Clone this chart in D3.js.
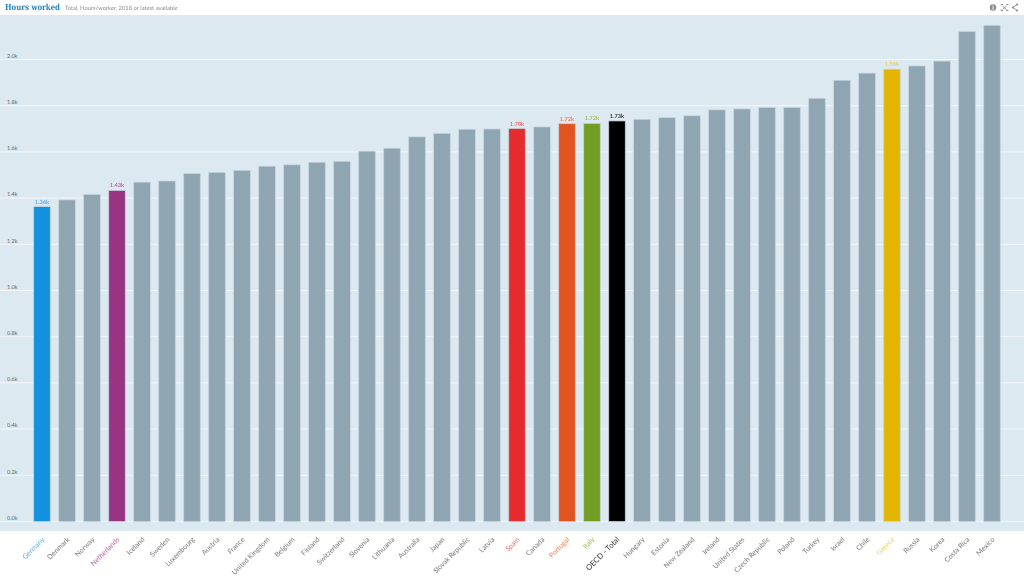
<!DOCTYPE html>
<html><head><meta charset="utf-8">
<script src="https://cdn.jsdelivr.net/npm/d3@7/dist/d3.min.js"></script>
<style>html,body{margin:0;padding:0;background:#fff;overflow:hidden}svg{display:block}text{font-family:Lato,"Noto Sans",sans-serif;text-rendering:geometricPrecision}.soft{opacity:.995}</style>
</head><body><svg id="c" width="1024" height="576"></svg>
<script>
const categories=["Germany","Denmark","Norway","Netherlands","Iceland","Sweden","Luxembourg","Austria","France","United Kingdom","Belgium","Finland","Switzerland","Slovenia","Lithuania","Australia","Japan","Slovak Republic","Latvia","Spain","Canada","Portugal","Italy","OECD - Total","Hungary","Estonia","New Zealand","Ireland","United States","Czech Republic","Poland","Turkey","Israel","Chile","Greece","Russia","Korea","Costa Rica","Mexico"];
const hours=[1363,1392,1416,1433,1469,1474,1506,1511,1520,1538,1544,1555,1559,1603,1616,1665,1680,1698,1699,1701,1708,1722,1723,1734,1741,1748,1756,1782,1786,1792,1792,1832,1910,1941,1958,1972,1993,2121,2148];
const valueLabels={"Germany":"1.36k","Netherlands":"1.43k","Spain":"1.70k","Portugal":"1.72k","Italy":"1.72k","OECD - Total":"1.73k","Greece":"1.96k"};
const highlight={"Germany":"#1390df","Netherlands":"#993483","Spain":"#e62b2f","Portugal":"#e2541f","Italy":"#729f23","OECD - Total":"#000000","Greece":"#e3b400"};
const labelTone={"Germany":"#5fb0e8","Netherlands":"#b665a6","Spain":"#ee6a6c","Portugal":"#ec8358","Italy":"#9dc060","OECD - Total":"#333","Greece":"#efcf5a"};
const yTicks=[0,200,400,600,800,1000,1200,1400,1600,1800,2000];
const title="Hours worked", subtitle="Total, Hours/worker, 2018 or latest available";

const svg=d3.select("#c");
svg.append("rect").attr("x",0).attr("y",15).attr("width",1024).attr("height",516).attr("fill","#dde9f1");
const y=d3.scaleLinear().domain([0,2000]).range([521.5,59.5]);
const x=d3.scaleBand().domain(categories).range([29.5,1004.5]).paddingInner(0.34).paddingOuter(0.17);

svg.append("g").selectAll("line").data(yTicks).join("line")
 .attr("x1",0).attr("x2",1024).attr("y1",d=>y(d)).attr("y2",d=>y(d))
 .attr("stroke","#f3f7fa").attr("stroke-width",1);

const soft=svg.append("g").attr("class","soft");
soft.append("g").selectAll("text").data(yTicks).join("text")
 .attr("x",7).attr("y",d=>y(d)-1.7).attr("font-size",5.5).attr("fill","#666")
 .text(d=>d3.format(".1f")(d/1000)+"k");

svg.append("g").selectAll("rect").data(categories).join("rect")
 .attr("x",d=>x(d)).attr("width",x.bandwidth())
 .attr("y",(d,i)=>y(hours[i])).attr("height",(d,i)=>y(0)-y(hours[i]))
 .attr("fill",d=>highlight[d]||"#8fa5b2")
 .attr("stroke","#c3d3de").attr("stroke-width",.7);

const soft2=svg.append("g").attr("class","soft");
soft2.append("g").selectAll("text").data(categories.filter(d=>valueLabels[d])).join("text")
 .attr("x",d=>x(d)+x.bandwidth()/2).attr("y",d=>y(hours[categories.indexOf(d)])-3)
 .attr("text-anchor","middle").attr("font-size",5.7).attr("font-weight",700)
 .attr("fill",d=>labelTone[d]).text(d=>valueLabels[d]);

soft2.append("g").selectAll("text").data(categories).join("text")
 .attr("text-anchor","end").attr("font-size",d=>d==="OECD - Total"?7.6:7)
 .attr("transform",d=>`translate(${x(d)+x.bandwidth()/2+3},540) rotate(-45)`)
 .attr("fill",d=>labelTone[d]||"#777").text(d=>d);

soft2.append("text").attr("x",5).attr("y",9.8).attr("font-size",8.4).attr("font-weight",700)
 .attr("textLength",55).attr("lengthAdjust","spacingAndGlyphs")
 .style("font-family","'DejaVu Serif',serif").attr("fill","#2a84c0").text(title);
soft2.append("text").attr("x",65).attr("y",9.6).attr("font-size",5.8).attr("fill","#888").text(subtitle);

const ic=svg.append("g").attr("fill","#8d8d8d").attr("stroke","#8d8d8d");
ic.append("circle").attr("cx",993).attr("cy",7.5).attr("r",3.2).attr("stroke","none");
ic.append("path").attr("stroke","#fff").attr("stroke-width",1).attr("fill","none").attr("d","M993 6.5V9.8M993 4.9V5.7");
ic.append("path").attr("fill","none").attr("stroke-width",.9)
 .attr("d","M1001 5V4.5H1003M1006 4.5H1008V5M1008 9.5V10.5H1006M1003 10.5H1001V9.5M1002.5 6L1006.5 9.5M1006.5 6L1002.5 9.5");
ic.append("path").attr("fill","none").attr("stroke-width",.9).attr("d","M1017 4.5L1013 7.5L1017 10.5");
ic.selectAll("circle.s").data([[1017,4.5],[1013,7.5],[1017,10.5]]).join("circle").attr("class","s")
 .attr("cx",d=>d[0]).attr("cy",d=>d[1]).attr("r",1.1).attr("stroke","none");
</script></body></html>
